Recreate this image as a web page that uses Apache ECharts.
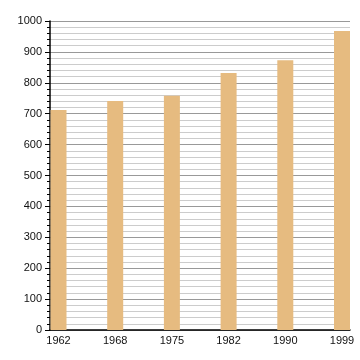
<!DOCTYPE html>
<html><head><meta charset="utf-8">
<script src="https://cdn.jsdelivr.net/npm/echarts@6/dist/echarts.min.js"></script>
<style>html,body{margin:0;padding:0;background:#fff}#c{width:360px;height:360px}</style>
</head><body><div id="c"></div>
<script>
const years = ['1962','1968','1975','1982','1990','1999'];
const population = [712, 741, 758, 832, 873, 968];
const yTicks = {min: 0, max: 1000, interval: 100};

const chart = echarts.init(document.getElementById('c'), null, {renderer: 'canvas'});
const font = 'Liberation Sans, Arial, sans-serif';
chart.setOption({
  animation: false,
  grid: [
    {left: 50, right: 10, top: 21, bottom: 30},
    {left: 58.5, right: 18, top: 21, bottom: 30}
  ],
  xAxis: [
    {gridIndex: 0, type: 'value', min: 0, max: 1, axisLabel: {show: false}, axisTick: {show: false},
     splitLine: {show: false}, axisLine: {onZero: false, lineStyle: {color: '#000', width: 1.5}}},
    {gridIndex: 1, type: 'category', data: years, boundaryGap: false,
     axisLine: {show: false}, axisTick: {show: false},
     axisLabel: {color: '#111', fontSize: 11, fontFamily: font, margin: 5}}
  ],
  yAxis: [
    {gridIndex: 0, type: 'value', min: yTicks.min, max: yTicks.max, interval: yTicks.interval,
     axisLine: {show: true, lineStyle: {color: '#000', width: 1.5}},
     axisTick: {show: true, length: 5, lineStyle: {color: '#000'}},
     minorTick: {show: true, splitNumber: 5, length: 3, lineStyle: {color: '#000'}},
     splitLine: {lineStyle: {color: '#999', width: 1}},
     minorSplitLine: {show: true, lineStyle: {color: '#ccc', width: 1}},
     axisLabel: {color: '#111', fontSize: 11, fontFamily: font, margin: 8, formatter: v => String(v)}},
    {gridIndex: 1, type: 'value', min: yTicks.min, max: yTicks.max, show: false, splitLine: {show: false}}
  ],
  series: [{
    type: 'bar', xAxisIndex: 1, yAxisIndex: 1, data: population, barWidth: 16,
    itemStyle: {color: '#e6bb80'}
  }]
});
</script></body></html>
